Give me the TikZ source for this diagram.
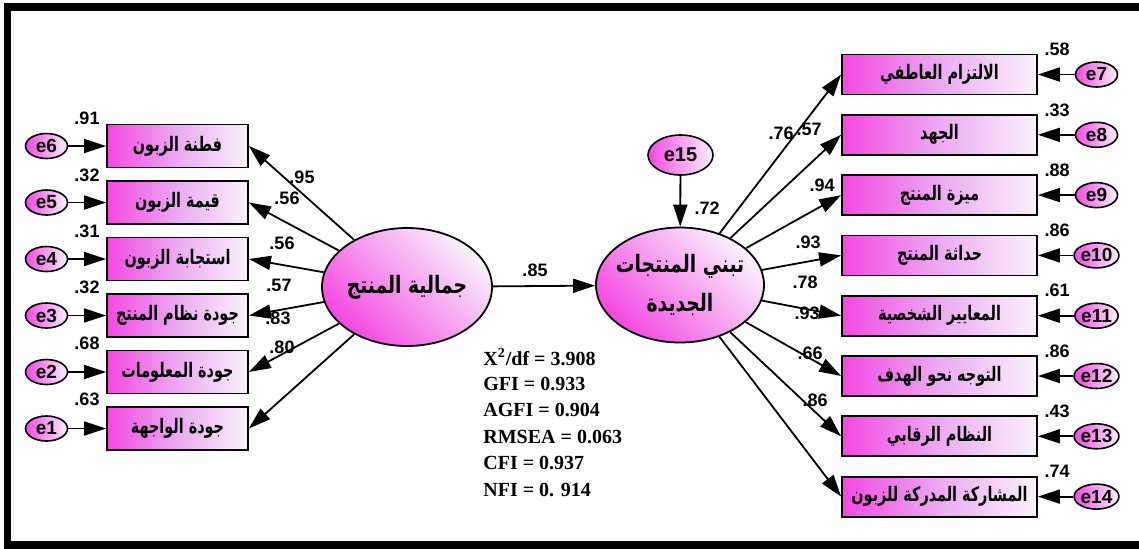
\documentclass[tikz,border=0pt]{standalone}
\usepackage{fontspec}
\setmainfont{Liberation Sans}
\newfontfamily\arabicfont[Script=Arabic,FakeStretch=0.72]{DejaVu Sans}
\newfontfamily\arabicwide[Script=Arabic,FakeStretch=0.78]{DejaVu Sans}
\newfontfamily\numfont{Liberation Sans}
\newfontfamily\statfont{Liberation Serif}
\TeXXeTstate=1
\usetikzlibrary{shapes.geometric,arrows.meta}
\newcommand{\boxtxt}[1]{\makebox[0pt]{\beginR #1\endR}}

\definecolor{mag}{RGB}{244,72,226}
\definecolor{magmid}{RGB}{236,170,242}
\definecolor{pale}{RGB}{249,242,252}

\tikzset{
 obs/.style={draw, line width=0.9pt, rectangle, left color=mag, right color=pale, middle color=magmid, inner sep=0pt, font=\arabicfont\bfseries\fontsize{10}{12}\selectfont},
 lobs/.style={obs, minimum width=70.5pt, minimum height=21.5pt},
 robs/.style={obs, minimum width=97.5pt, minimum height=20pt},
 err/.style={draw, ellipse, line width=0.8pt, left color=mag, right color=pale, inner sep=0pt, minimum width=21pt, minimum height=12.5pt, font=\numfont\bfseries\fontsize{9.5}{10}\selectfont},
 lat/.style={draw, ellipse, line width=0.9pt, top color=pale, bottom color=mag, shading angle=-45, inner sep=0pt, minimum width=85pt, minimum height=59pt, font=\arabicwide\bfseries\fontsize{12}{19.5}\selectfont, align=center},
 arr/.style={-{Triangle[length=11pt,width=7pt]}, line width=0.9pt},
 num/.style={font=\numfont\bfseries\fontsize{9}{10}\selectfont, inner sep=0pt},
 stat/.style={font=\statfont\bfseries\fontsize{10}{12}\selectfont, inner sep=0pt, anchor=west},
}

\begin{document}
\begin{tikzpicture}[x=0.5pt, y=-0.5pt]
\useasboundingbox (0,0) rectangle (1139,548);
\fill[white] (0,0) rectangle (1139,548);
% frame
\draw[line width=3.75pt, line join=miter] (1139,7) -- (7.5,7) -- (7.5,545) -- (1139,545);

% latent variables
\node[lat] (L) at (407,287) {\boxtxt{جمالية المنتج}};
\node[lat, minimum width=84pt, minimum height=57.5pt] (R) at (680,285) {\boxtxt{تبني المنتجات}\\\boxtxt{الجديدة}};
\node[err, minimum width=32.5pt, minimum height=20pt, font=\numfont\bfseries\fontsize{10}{12}\selectfont] (e15) at (680.5,155) {e15};

% left observed
\node[lobs] (b6) at (177.5,146) {\boxtxt{فطنة الزبون}};
\node[lobs] (b5) at (177.5,202.5) {\boxtxt{قيمة الزبون}};
\node[lobs] (b4) at (177.5,259) {\boxtxt{استجابة الزبون}};
\node[lobs] (b3) at (177.5,315.5) {\boxtxt{جودة نظام المنتج}};
\node[lobs] (b2) at (177.5,372) {\boxtxt{جودة المعلومات}};
\node[lobs] (b1) at (177.5,428.5) {\boxtxt{جودة الواجهة}};

\node[err] (e6) at (46.5,146) {e6};
\node[err] (e5) at (46.5,202.5) {e5};
\node[err] (e4) at (46.5,259) {e4};
\node[err] (e3) at (46.5,315.5) {e3};
\node[err] (e2) at (46.5,372) {e2};
\node[err] (e1) at (46.5,428.5) {e1};

\node[num] (n6) at (87,118) {.91};
\node[num] (n5) at (87,175) {.32};
\node[num] (n4) at (87,231) {.31};
\node[num] (n3) at (87,287) {.32};
\node[num] (n2) at (87,343) {.68};
\node[num] (n1) at (87,399) {.63};

% right observed
\node[robs] (r7) at (939.5,74.5) {\boxtxt{الالتزام العاطفي}};
\node[robs] (r8) at (939.5,134.8) {\boxtxt{الجهد}};
\node[robs] (r9) at (939.5,195.1) {\boxtxt{ميزة المنتج}};
\node[robs] (r10) at (939.5,255.4) {\boxtxt{حداثة المنتج}};
\node[robs] (r11) at (939.5,315.7) {\boxtxt{المعايير الشخصية}};
\node[robs] (r12) at (939.5,376) {\boxtxt{التوجه نحو الهدف}};
\node[robs] (r13) at (939.5,436.3) {\boxtxt{النظام الرقابي}};
\node[robs] (r14) at (939.5,496.6) {\boxtxt{المشاركة المدركة للزبون}};

\node[err] (e7) at (1096.5,74.5) {e7};
\node[err] (e8) at (1096.5,134.8) {e8};
\node[err] (e9) at (1096.5,195.1) {e9};
\node[err] (e10) at (1096.5,255.4) {e10};
\node[err] (e11) at (1096.5,315.7) {e11};
\node[err] (e12) at (1096.5,376) {e12};
\node[err] (e13) at (1096.5,436.3) {e13};
\node[err] (e14) at (1096.5,496.6) {e14};

\node[num] (m7) at (1057,49.5) {.58};
\node[num] (m8) at (1057,110) {.33};
\node[num] (m9) at (1057,170) {.88};
\node[num] (m10) at (1057,230.5) {.86};
\node[num] (m11) at (1057,290.5) {.61};
\node[num] (m12) at (1057,351) {.86};
\node[num] (m13) at (1057,411) {.43};
\node[num] (m14) at (1057,471.5) {.74};

% arrows left
\foreach \i in {1,...,6} {
  \draw[arr] (L) -- (b\i.east);
  \draw[arr] (e\i) -- (b\i.west);
}
% arrows right
\foreach \i in {7,...,14} {
  \draw[arr] (R) -- (r\i.west);
  \draw[arr] (e\i) -- (r\i.east);
}
\draw[arr] (L) -- (R);
\draw[arr] (e15) -- (R);

% path labels
\node[num] (p6) at (302,177) {.95};
\node[num] (p5) at (287,198) {.56};
\node[num] (p4) at (282,243) {.56};
\node[num] (p3) at (279,285) {.57};
\node[num] (p2) at (278,318) {.83};
\node[num] (p1) at (282,347) {.80};

\node[num] (q7) at (781,133) {.76};
\node[num] (q8) at (809,129) {.57};
\node[num] (q9) at (822,185) {.94};
\node[num] (q10) at (808,242) {.93};
\node[num] (q11) at (805,282) {.78};
\node[num] (q12) at (807,313) {.93};
\node[num] (q13) at (810,353) {.66};
\node[num] (q14) at (815,400) {.86};

\node[num] (q0) at (535,270) {.85};
\node[num] (q15) at (707,208) {.72};

% fit statistics
\node[stat] (s1) at (483,357) {X\textsuperscript{2}/df = 3.908};
\node[stat] (s2) at (483,383.5) {GFI = 0.933};
\node[stat] (s3) at (483,410) {AGFI = 0.904};
\node[stat] (s4) at (483,436.5) {RMSEA = 0.063};
\node[stat] (s5) at (483,463) {CFI = 0.937};
\node[stat] (s6) at (483,489.5) {NFI = 0. 914};
\end{tikzpicture}
\end{document}
